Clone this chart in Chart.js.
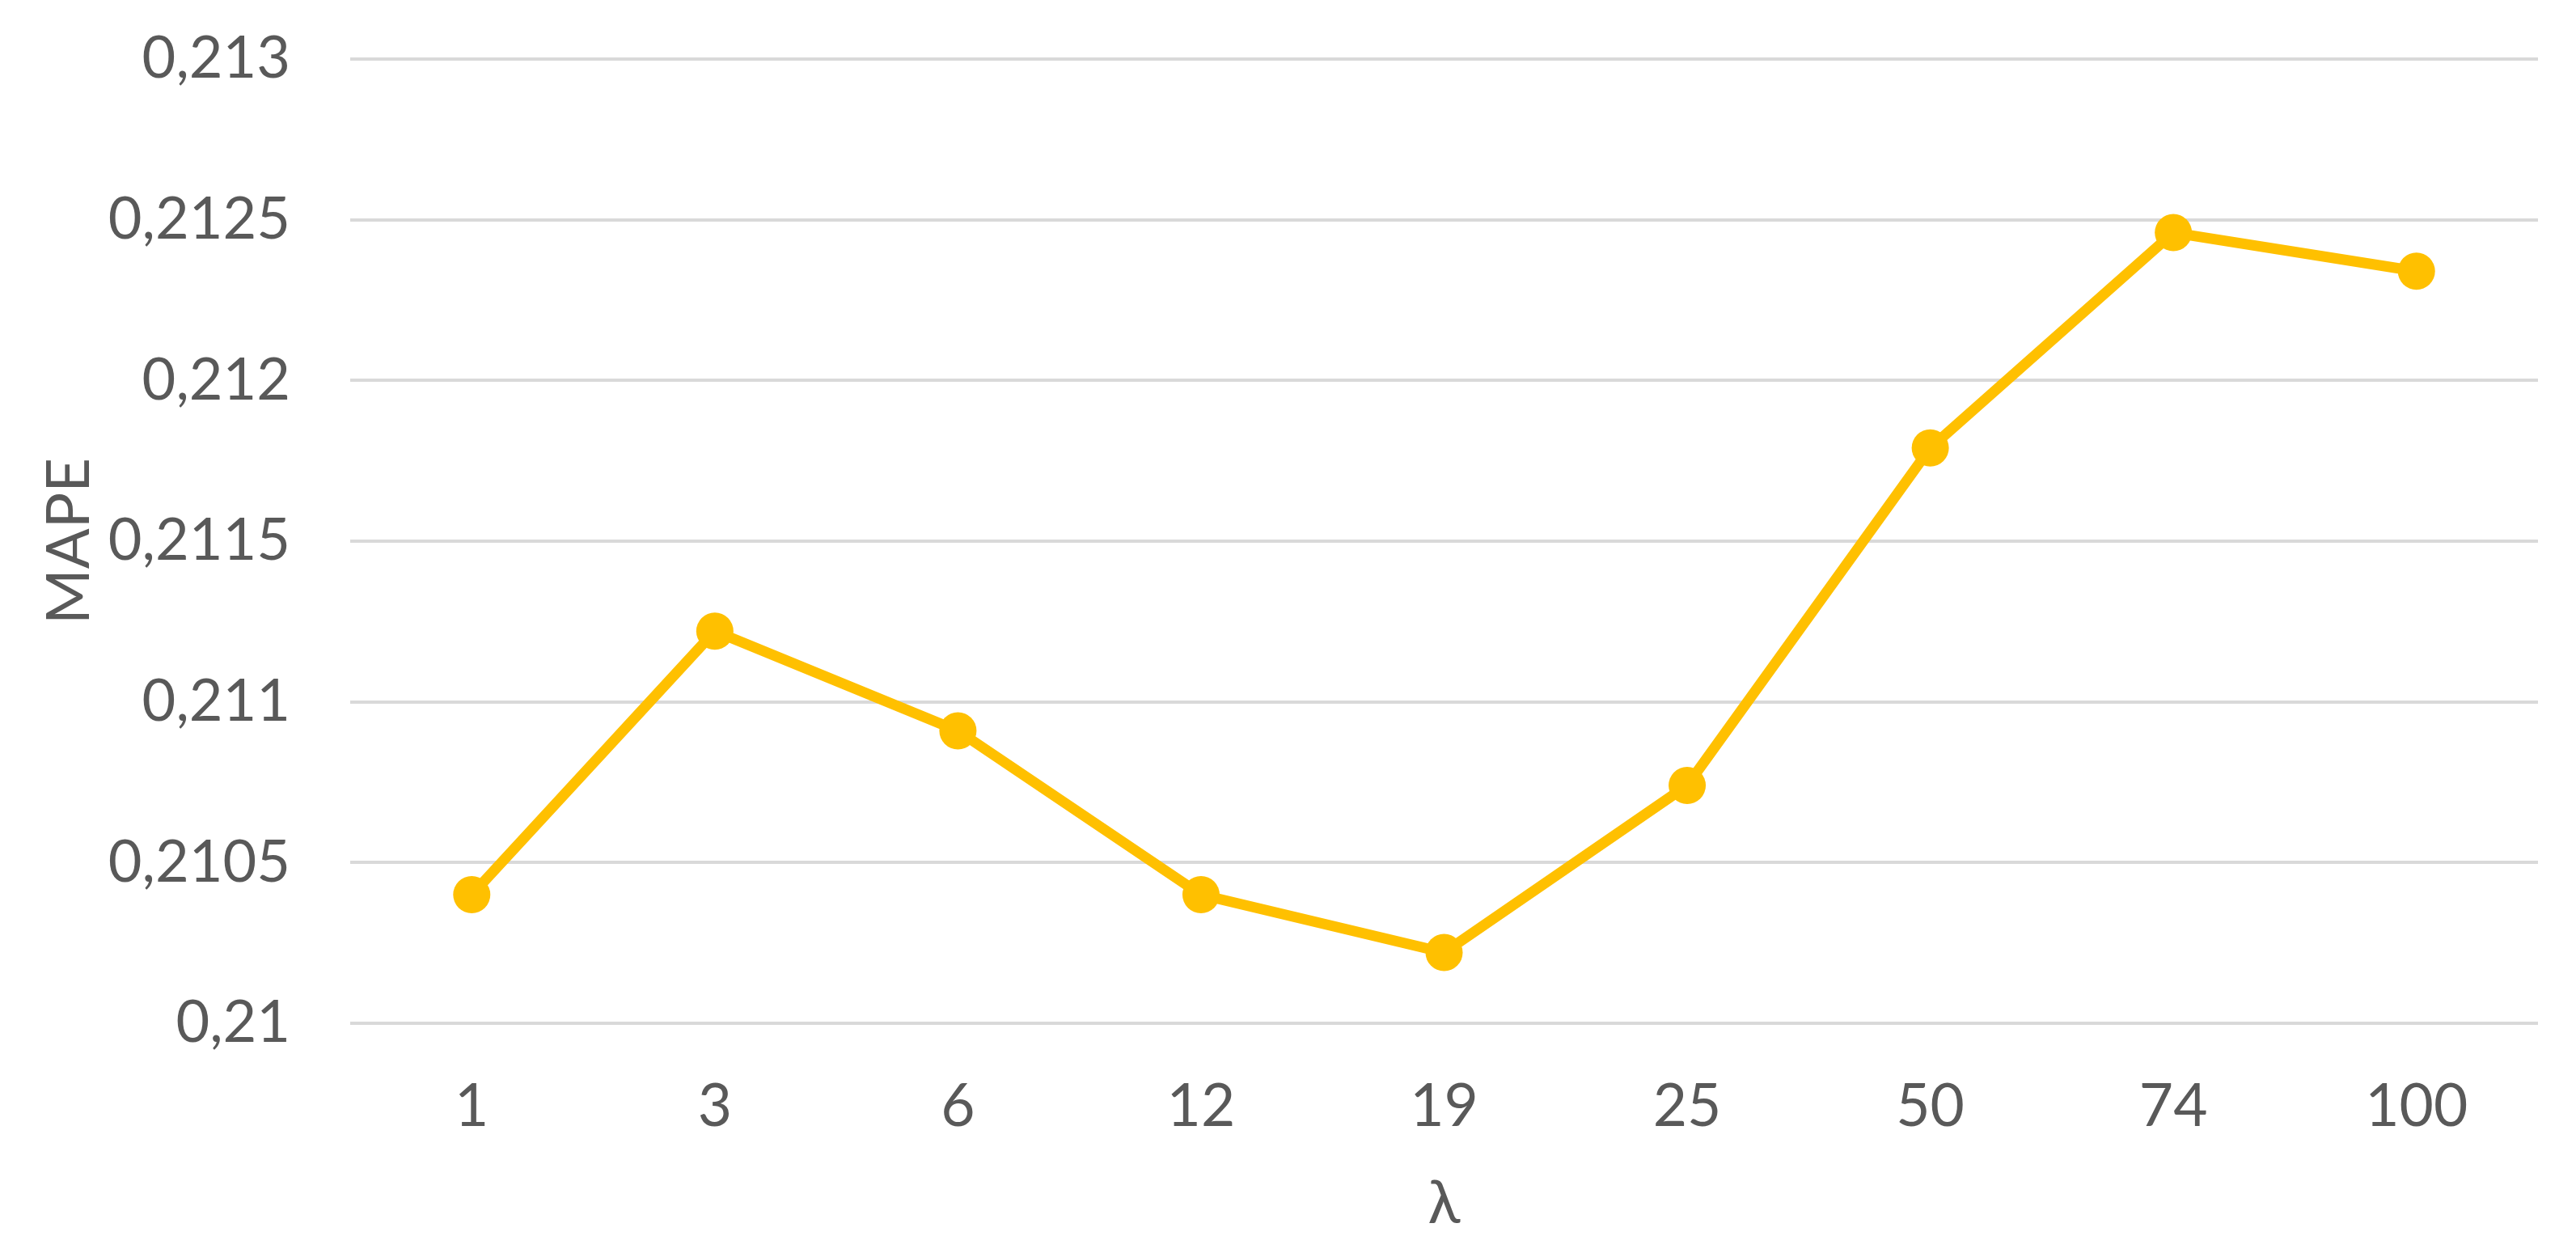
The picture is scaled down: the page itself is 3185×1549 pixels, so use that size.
<!DOCTYPE html>
<html>
<head>
<meta charset="utf-8">
<script src="https://cdn.jsdelivr.net/npm/chart.js@4/dist/chart.umd.min.js"></script>
<style>
  html, body { margin: 0; padding: 0; background: #fff; }
  #wrap { width: 3185px; height: 1549px; }
</style>
</head>
<body>
<div id="wrap"><canvas id="myChart"></canvas></div>
<script>
'use strict';

// lambda values on the x axis
var lambdas = ['1', '3', '6', '12', '19', '25', '50', '74', '100'];
// MAPE
var mape = [0.21040, 0.21122, 0.21091, 0.21040, 0.21022, 0.21074, 0.21179, 0.21246, 0.21234];
// y axis range
var yMin = 0.21;
var yMax = 0.213;
var yStep = 0.0005;

var textColor = '#595959';
var fontFamily = 'Lato, Roboto, "Open Sans", sans-serif';

Chart.defaults.font.family = fontFamily;
Chart.defaults.color = textColor;

var ctx = document.getElementById('myChart');

var chart = new Chart(ctx, {
    type: 'line',

    data: {
        labels: lambdas,
        datasets: [
        {
            label: 'MAPE',
            data: mape,
            borderColor: '#FFC000',
            backgroundColor: '#FFC000',
            borderWidth: 13,
            pointRadius: 23,
            pointBorderWidth: 0,
            pointBackgroundColor: '#FFC000',
            tension: 0,
            fill: false
        }
        ]
    },

    options: {
        responsive: true,
        maintainAspectRatio: false,
        animation: false,
        layout: {
            padding: { top: 73, right: 47, bottom: 0, left: 0 }
        },
        plugins: {
            legend: { display: false },
            tooltip: { enabled: false }
        },
        scales: {
            x: {
                offset: true,
                grid: { display: false },
                border: { display: false },
                ticks: {
                    color: textColor,
                    font: { size: 73 },
                    padding: 52
                },
                title: {
                    display: true,
                    text: 'λ',
                    color: textColor,
                    font: { size: 74 },
                    padding: { top: 0, bottom: 16 }
                },
                afterFit: function(scale) {
                    scale.height = 284;
                }
            },
            y: {
                min: yMin,
                max: yMax,
                grid: {
                    color: '#d9d9d9',
                    lineWidth: 4,
                    // invisible tick marks keep the labels away from the plot
                    drawTicks: true,
                    tickLength: 74,
                    tickColor: 'rgba(0,0,0,0)'
                },
                border: { display: false },
                ticks: {
                    stepSize: yStep,
                    color: textColor,
                    font: { size: 72 },
                    padding: 0,
                    callback: function(value) {
                        return String(+value.toFixed(4)).replace('.', ',');
                    }
                },
                title: {
                    display: true,
                    text: 'MAPE',
                    color: textColor,
                    font: { size: 74 },
                    padding: { top: 42, bottom: 0 }
                },
                afterFit: function(scale) {
                    scale.width = 433;
                }
            }
        }
    }
});
</script>
</body>
</html>
